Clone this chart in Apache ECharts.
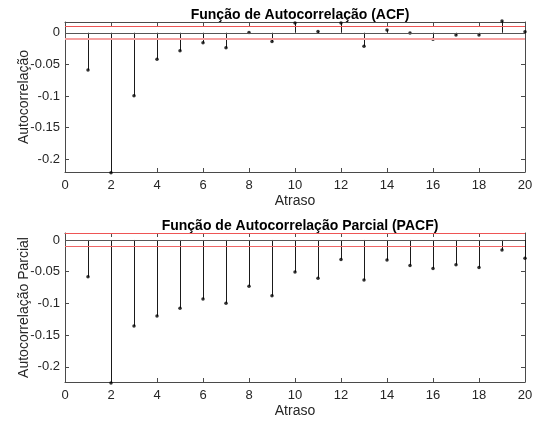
<!DOCTYPE html>
<html>
<head>
<meta charset="utf-8">
<script src="https://cdn.jsdelivr.net/npm/echarts@6/dist/echarts.min.js"></script>
<style>
  html, body { margin: 0; padding: 0; background: #fff; }
  #chart { width: 537px; height: 424px; }
</style>
</head>
<body>
<div id="chart"></div>
<script>
// lags 1..20
const lags = [1, 2, 3, 4, 5, 6, 7, 8, 9, 10, 11, 12, 13, 14, 15, 16, 17, 18, 19, 20];
const acfValues = [-0.0587, -0.221, -0.0995, -0.0418, -0.0286, -0.0159, -0.0238, 0.0005, -0.0138, 0.0153,
  0.0021, 0.0153, -0.0212, 0.0042, -0.0005, -0.0101, -0.0037, -0.0037, 0.0185, 0.0016];
const pacfValues = [-0.0581, -0.2254, -0.1357, -0.1198, -0.1077, -0.0929, -0.0998, -0.0728, -0.0881, -0.0507,
  -0.0602, -0.0306, -0.0633, -0.0317, -0.0401, -0.0449, -0.0391, -0.0433, -0.0158, -0.029];
const confBound = 0.0106;
const yTickValues = [-0.2, -0.15, -0.1, -0.05, 0];
const titles = ["Função de Autocorrelação (ACF)", "Função de Autocorrelação Parcial (PACF)"];
const yNames = ["Autocorrelação", "Autocorrelação Parcial"];
const xName = "Atraso";

const font = "'Liberation Sans', Arial, sans-serif";
const axisColor = "#4a4a4a";
const textColor = "#262626";

const chart = echarts.init(document.getElementById("chart"));

const grids = [
  { left: 65, right: 12, top: 22, height: 150 },
  { left: 65, right: 12, top: 233, height: 149 },
];
const yRanges = [[-0.22, 0.017], [-0.224, 0.011]];

function makeXAxes(i) {
  return [
    {
      type: "value", gridIndex: i, min: 0, max: 20, interval: 2, position: "bottom",
      name: xName, nameLocation: "middle", nameGap: 22, nameMoveOverlap: false,
      nameTextStyle: { color: textColor, fontSize: 14, fontFamily: font },
      axisLine: { onZero: false, lineStyle: { color: axisColor } },
      axisTick: { inside: true, length: 4, lineStyle: { color: axisColor } },
      axisLabel: { color: textColor, fontSize: 13, fontFamily: font, margin: 7 },
      splitLine: { show: false },
    },
    {
      type: "value", gridIndex: i, min: 0, max: 20, interval: 2, position: "top",
      axisLine: { onZero: false, lineStyle: { color: axisColor } },
      axisTick: { inside: true, length: 4, lineStyle: { color: axisColor } },
      axisLabel: { show: false },
      splitLine: { show: false },
    },
  ];
}

function makeYAxes(i) {
  const [min, max] = yRanges[i];
  return [
    {
      type: "value", gridIndex: i, min, max, position: "left",
      name: yNames[i], nameLocation: "middle", nameGap: 34, nameRotate: 90, nameMoveOverlap: false,
      nameTextStyle: { color: textColor, fontSize: 14, fontFamily: font },
      axisLine: { show: true, onZero: false, lineStyle: { color: axisColor } },
      axisTick: { show: true, inside: true, length: 4, customValues: yTickValues, lineStyle: { color: axisColor } },
      axisLabel: { color: textColor, fontSize: 13, fontFamily: font, margin: 5, customValues: yTickValues,
        formatter: (v) => String(v) },
      splitLine: { show: false },
    },
    {
      type: "value", gridIndex: i, min, max, position: "right",
      axisLine: { show: true, onZero: false, lineStyle: { color: axisColor } },
      axisTick: { show: true, inside: true, length: 4, customValues: yTickValues, lineStyle: { color: axisColor } },
      axisLabel: { show: false },
      splitLine: { show: false },
    },
  ];
}

function stemSeries(i, values) {
  const data = lags.map((l, k) => [l, values[k]]);
  return [
    {
      type: "custom",
      xAxisIndex: i * 2, yAxisIndex: i * 2,
      data,
      clip: false,
      renderItem: (params, api) => {
        const p0 = api.coord([api.value(0), 0]);
        const p1 = api.coord([api.value(0), api.value(1)]);
        const x = Math.round(p0[0]) + 0.5;
        return {
          type: "line",
          shape: { x1: x, y1: p0[1], x2: x, y2: p1[1] },
          style: { stroke: "#1a1a1a", lineWidth: 1 },
        };
      },
      z: 3,
    },
    {
      type: "scatter",
      xAxisIndex: i * 2, yAxisIndex: i * 2,
      data,
      clip: false,
      symbol: "circle",
      symbolSize: 3.5,
      itemStyle: { color: "#000" },
      z: 4,
      silent: true,
      markLine: {
        silent: true,
        symbol: "none",
        label: { show: false },
        data: [
          { yAxis: 0, lineStyle: { color: "#555", width: 1, type: "solid" } },
          { yAxis: confBound, lineStyle: { color: "#ee5555", width: 1, type: "solid" } },
          { yAxis: -confBound, lineStyle: { color: i === 0 ? "#f5a0a0" : "#ee6666", width: i === 0 ? 2 : 1, type: "solid" } },
        ],
      },
    },
  ];
}

chart.setOption({
  backgroundColor: "#fff",
  animation: false,
  title: titles.map((t, i) => ({
    text: t,
    left: 295,
    textAlign: "center",
    top: i === 0 ? 3 : 214,
    textStyle: { color: "#000", fontSize: 14, fontWeight: "bold", fontFamily: font },
  })),
  grid: grids,
  xAxis: [...makeXAxes(0), ...makeXAxes(1)],
  yAxis: [...makeYAxes(0), ...makeYAxes(1)],
  series: [...stemSeries(0, acfValues), ...stemSeries(1, pacfValues)],
});
</script>
</body>
</html>
